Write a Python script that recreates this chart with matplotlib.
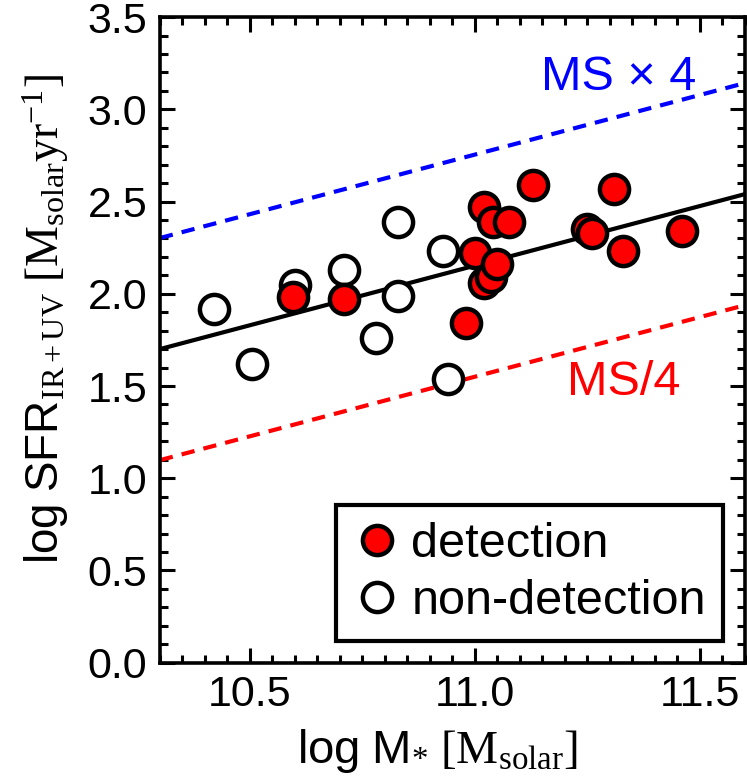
import numpy as np
import matplotlib
matplotlib.use("Agg")
import matplotlib.pyplot as plt
from matplotlib.ticker import MultipleLocator

plt.rcParams['font.family'] = ['Liberation Sans', 'DejaVu Sans']
plt.rcParams['mathtext.fontset'] = 'custom'
plt.rcParams['mathtext.rm'] = 'Liberation Serif'
plt.rcParams['mathtext.sf'] = 'Liberation Sans'
plt.rcParams['mathtext.it'] = 'Liberation Serif:italic'

# detections (filled red)
det_x = [10.595, 10.71, 10.98, 11.00, 11.02, 11.035, 11.05, 11.02, 11.04, 11.075,
         11.13, 11.25, 11.26, 11.31, 11.33, 11.46]
det_y = [1.98, 1.97, 1.84, 2.22, 2.06, 2.09, 2.16, 2.47, 2.39, 2.39,
         2.59, 2.35, 2.33, 2.57, 2.23, 2.34]

# non-detections (open)
non_x = [10.42, 10.505, 10.60, 10.71, 10.78, 10.83, 10.83, 10.93, 10.94]
non_y = [1.92, 1.62, 2.05, 2.13, 1.76, 1.99, 2.39, 2.23, 1.54]

# main sequence line
ms_x = [10.3, 11.6]
ms_y = [1.70, 2.54]
off = np.log10(4)

fig = plt.figure(figsize=(7.47, 7.76), dpi=100)
ax = fig.add_axes([0.214, 0.146, 0.783, 0.832])

ax.plot(ms_x, ms_y, color='black', lw=3, zorder=2)
ax.plot(ms_x, np.array(ms_y) + off, color='blue', lw=3, ls=(0, (3.2, 2.2)), zorder=2)
ax.plot(ms_x, np.array(ms_y) - off, color='red', lw=3, ls=(0, (3.2, 2.2)), zorder=2)

ax.plot(non_x, non_y, 'o', ms=21, mfc='white', mec='black', mew=3.2, ls='none',
        label='non-detection', zorder=3)
ax.plot(det_x, det_y, 'o', ms=21, mfc='red', mec='black', mew=3.2, ls='none',
        label='detection', zorder=4)

ax.text(11.32, 3.17, 'MS × 4', color='blue', fontsize=35, ha='center', va='center')
ax.text(11.33, 1.52, 'MS/4', color='red', fontsize=35, ha='center', va='center')

ax.set_xlim(10.3, 11.6)
ax.set_ylim(0, 3.5)
ax.xaxis.set_minor_locator(MultipleLocator(0.05))
ax.yaxis.set_minor_locator(MultipleLocator(0.1))
ax.set_xticks([10.5, 11.0, 11.5])
ax.set_xticklabels(['10.5', '11.0', '11.5'])
ax.set_yticks(np.arange(0, 3.51, 0.5))
ax.set_yticklabels(['%.1f' % v for v in np.arange(0, 3.51, 0.5)])
ax.tick_params(which='both', direction='in', top=True, right=True, labelsize=31, width=2.2)
ax.tick_params(which='major', length=11, pad=9)
ax.tick_params(which='minor', length=6)
for s in ax.spines.values():
    s.set_linewidth(2.6)

ax.set_xlabel(r'$\mathsf{log\ M}_{*}\ \mathrm{[M_{solar}]}$', fontsize=34)
ax.set_ylabel(r'$\mathsf{log\ SFR}_{\mathrm{IR+UV}}\ \mathrm{[M_{solar}yr^{-1}]}$', fontsize=33)
ax.xaxis.set_label_coords(0.474, -0.10)
ax.yaxis.set_label_coords(-0.152, 0.532)

h, l = ax.get_legend_handles_labels()
leg = ax.legend(h[::-1], l[::-1], loc='lower right', fontsize=35, frameon=True, fancybox=False,
                edgecolor='black', framealpha=1, borderaxespad=0.45, handletextpad=0.2,
                handlelength=1.0, borderpad=0.35, labelspacing=0.25)
leg.get_frame().set_linewidth(3)

fig.savefig('out.png', dpi=100)
